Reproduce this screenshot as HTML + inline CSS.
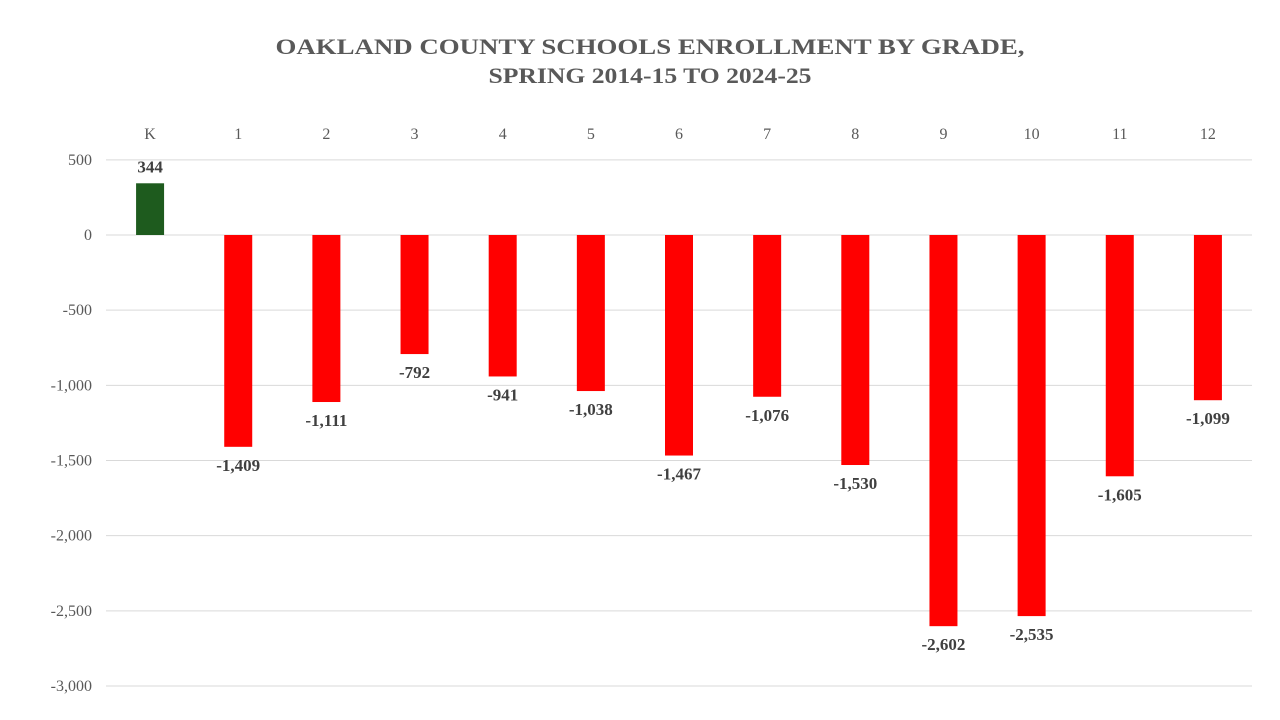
<!DOCTYPE html>
<html><head><meta charset="utf-8"><style>
html,body{margin:0;padding:0;background:#fff;}
svg{display:block;font-family:"Liberation Serif",serif;}
</style></head><body>
<svg id="chart" width="1280" height="720">
<text x="650" y="54" text-anchor="middle" font-size="22" font-weight="bold" fill="#595959" textLength="749" lengthAdjust="spacingAndGlyphs">OAKLAND COUNTY SCHOOLS ENROLLMENT BY GRADE,</text>
<text x="650" y="83" text-anchor="middle" font-size="22" font-weight="bold" fill="#595959" textLength="323" lengthAdjust="spacingAndGlyphs">SPRING 2014-15 TO 2024-25</text>
<g id="grid"></g><g id="bars"></g><g id="labels"></g>
</svg>
<script>
const categories=["K","1","2","3","4","5","6","7","8","9","10","11","12"];
const values=[344,-1409,-1111,-792,-941,-1038,-1467,-1076,-1530,-2602,-2535,-1605,-1099];
const yTicks=[500,0,-500,-1000,-1500,-2000,-2500,-3000];
const NS="http://www.w3.org/2000/svg";
const plotL=106,plotR=1252,y0=235,yPer=451/3000;
const band=(plotR-plotL)/categories.length,bw=28;
const y=v=>y0-v*yPer;
const x=i=>plotL+band*(i+0.5);
function mk(tag,attrs,parent){const e=document.createElementNS(NS,tag);for(const k in attrs)e.setAttribute(k,attrs[k]);parent.appendChild(e);return e;}
const fmt=v=>(v<0?"-":"")+Math.abs(v).toLocaleString("en-US");
const grid=document.getElementById("grid"),bars=document.getElementById("bars"),labels=document.getElementById("labels");
yTicks.forEach(t=>{
 const l=mk("line",{x1:plotL,x2:plotR,y1:y(t),y2:y(t),stroke:"#d9d9d9","stroke-width":1},grid);
 
 
 const tx=mk("text",{x:92,y:y(t)+5,"text-anchor":"end","font-size":16,fill:"#595959"},grid);
 tx.textContent=fmt(t);
 
 
});
categories.forEach((c,i)=>{
 const tx=mk("text",{x:x(i),y:139,"text-anchor":"middle","font-size":16,fill:"#595959"},grid);
 tx.textContent=c;
 
 
 const v=values[i];
 const top=Math.min(y(v),y(0)),h=Math.abs(y(v)-y(0));
 const r=mk("rect",{x:x(i)-bw/2,y:top,width:bw,height:h,fill:v>=0?"#1E5B1E":"#FF0000"},bars);
 
 
 const lb=mk("text",{x:x(i),y:v>=0?y(v)-11:y(v)+24,"text-anchor":"middle","font-size":17,"font-weight":"bold",fill:"#404040"},labels);
 lb.textContent=fmt(v);
 
 
});
</script>
</body></html>
